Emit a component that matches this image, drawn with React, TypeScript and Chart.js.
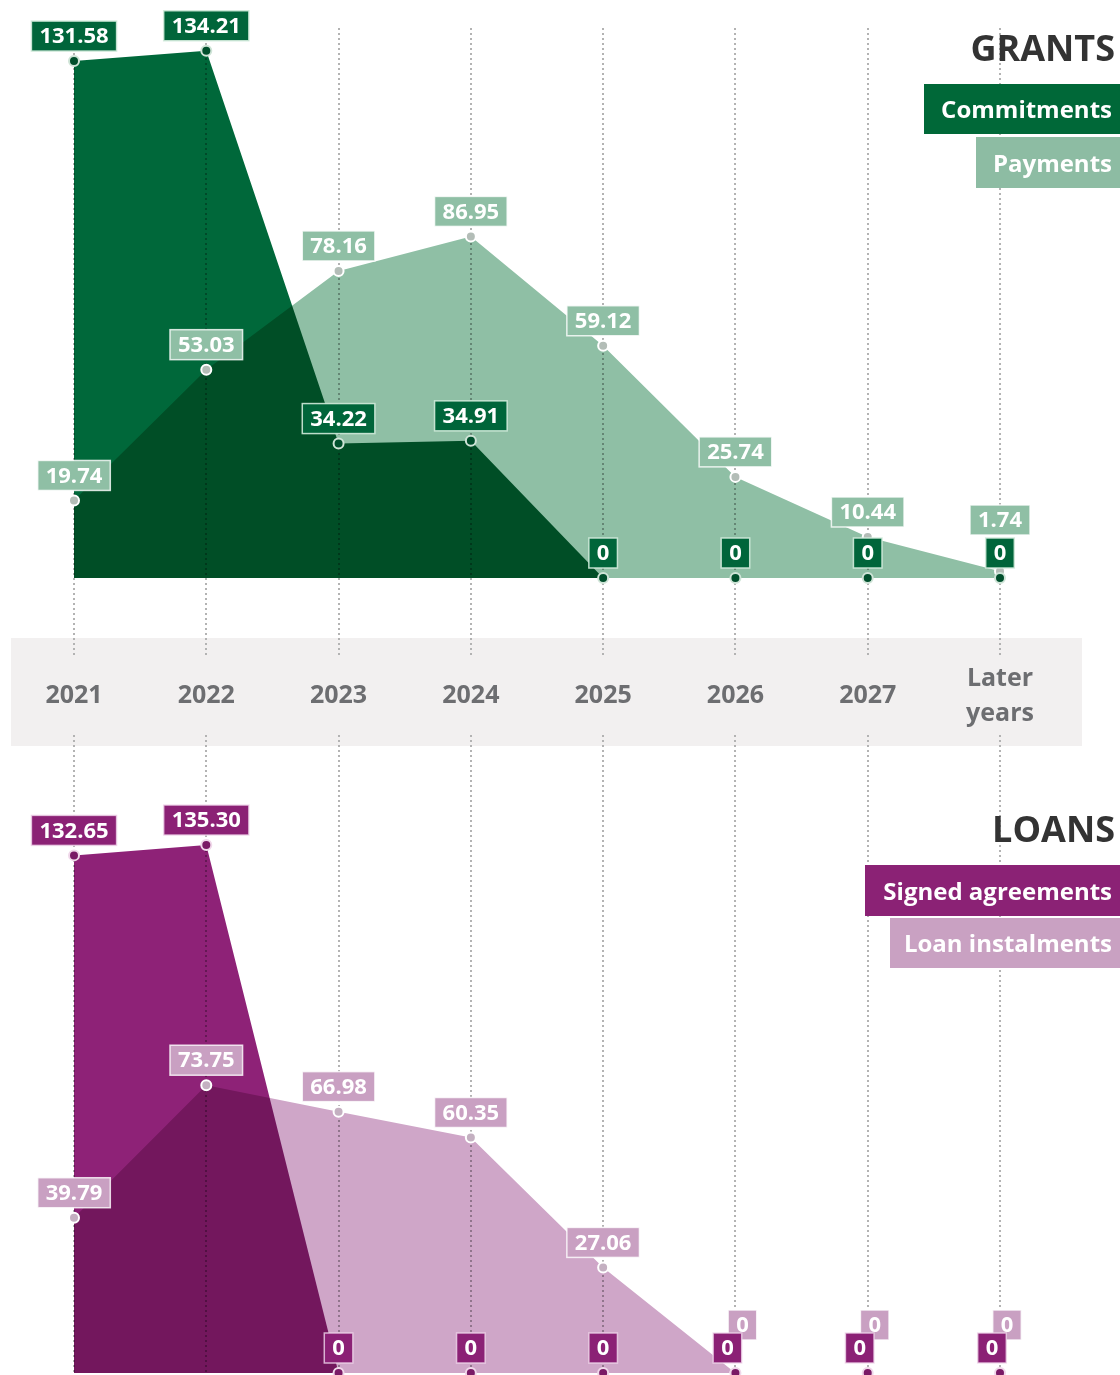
import React, { useEffect, useRef } from 'react';
import { Chart, registerables } from 'chart.js';

// ---------- data ----------
const yearLabels: (string | string[])[] = ['2021', '2022', '2023', '2024', '2025', '2026', '2027', ['Later', 'years']];
const grantCommitments = [131.58, 134.21, 34.22, 34.91, 0, 0, 0, 0];
const grantPayments = [19.74, 53.03, 78.16, 86.95, 59.12, 25.74, 10.44, 1.74];
const loanSigned = [132.65, 135.3, 0, 0, 0, 0, 0, 0];
const loanInstalments = [39.79, 73.75, 66.98, 60.35, 27.06, 0, 0, 0];

const grantSeriesNames = ['Commitments', 'Payments'];
const loanSeriesNames = ['Signed agreements', 'Loan instalments'];

// ---------- styles ----------
const GREEN_DARK = '#00683a';
const GREEN_LIGHT = '#8fbfa5';
const PURPLE_DARK = '#8e2277';
const PURPLE_LIGHT = '#cfa6c8';
const GRID = '#b3b3b3';
const FONT = "'Open Sans', sans-serif";

// blending plugin: registered before the built-ins so it runs before the filler
const blendPlugin = {
  id: 'blendFill',
  beforeDatasetsDraw(chart: any) {
    chart.ctx.globalCompositeOperation = 'multiply';
  },
  beforeDatasetDraw(chart: any) {
    chart.ctx.globalCompositeOperation = 'source-over';
  },
  afterDatasetsDraw(chart: any) {
    chart.ctx.globalCompositeOperation = 'source-over';
  },
};
Chart.register(blendPlugin as any);
Chart.register(...registerables);
Chart.defaults.font.family = FONT;

const fmt = (v: number) => (v === 0 ? '0' : v.toFixed(2));

const boxLabelPlugin = {
  id: 'boxLabels',
  afterDatasetsDraw(chart: any, _args: any, opts: any) {
    const ctx = chart.ctx as CanvasRenderingContext2D;
    ctx.save();
    ctx.globalCompositeOperation = 'source-over';
    ctx.font = `bold ${opts.fontSize}px ${FONT}`;
    const padX = 8;
    const boxH = 30;
    const gap = 10;
    const boxes = chart.data.datasets.map((ds: any, di: number) => {
      const meta = chart.getDatasetMeta(di);
      return ds.data.map((v: number, j: number) => {
        const pt = meta.data[j];
        const text = fmt(v);
        const w = ctx.measureText(text).width + padX * 2;
        return { text, v, cx: pt.x, bottom: pt.y - gap, w, h: boxH };
      });
    });
    const topB = boxes[0];
    const lowB = boxes[1];
    for (let j = 0; j < topB.length; j++) {
      const a = topB[j];
      const b = lowB[j];
      const overlap = Math.abs(a.cx - b.cx) < (a.w + b.w) / 2 && Math.abs(a.bottom - b.bottom) < boxH;
      if (overlap) {
        if (a.v === b.v) {
          a.cx -= 8;
          b.cx += 7;
          b.bottom -= 23;
        } else {
          b.bottom = a.bottom - boxH - 3;
        }
      }
    }
    const drawBox = (bx: any, fill: string, stroke: string) => {
      const x = bx.cx - bx.w / 2;
      const y = bx.bottom - bx.h;
      ctx.fillStyle = fill;
      ctx.fillRect(x, y, bx.w, bx.h);
      ctx.strokeStyle = stroke;
      ctx.lineWidth = 1.5;
      ctx.strokeRect(x, y, bx.w, bx.h);
      ctx.fillStyle = '#ffffff';
      ctx.textAlign = 'center';
      ctx.textBaseline = 'middle';
      ctx.fillText(bx.text, bx.cx, y + bx.h / 2 + 1);
    };
    lowB.forEach((bx: any) => drawBox(bx, opts.colors[1], opts.strokes[1]));
    topB.forEach((bx: any) => drawBox(bx, opts.colors[0], opts.strokes[0]));
    ctx.restore();
  },
};

function buildConfig(
  names: string[],
  dark: number[],
  light: number[],
  colors: { dark: string; light: string; darkPt: string; darkPtBorder: string; lightPt: string; labelDark: string; labelLight: string; strokeDark: string; strokeLight: string },
  yMax: number,
  showTicks: boolean,
  padding: any
): any {
  return {
    type: 'line',
    data: {
      labels: yearLabels,
      datasets: [
        {
          label: names[0],
          data: dark,
          fill: 'origin',
          backgroundColor: colors.dark,
          borderColor: colors.dark,
          borderWidth: 0,
          tension: 0,
          clip: false,
          pointRadius: 5,
          pointBorderWidth: 2,
          pointBackgroundColor: colors.darkPt,
          pointBorderColor: colors.darkPtBorder,
        },
        {
          label: names[1],
          data: light,
          fill: 'origin',
          backgroundColor: colors.light,
          borderColor: colors.light,
          borderWidth: 0,
          tension: 0,
          clip: false,
          pointRadius: 5,
          pointBorderWidth: 2,
          pointBackgroundColor: colors.lightPt,
          pointBorderColor: '#ffffff',
        },
      ],
    },
    options: {
      responsive: false,
      animation: false,
      events: [],
      layout: { padding },
      plugins: {
        legend: { display: false },
        tooltip: { enabled: false },
        filler: { drawTime: 'beforeDatasetsDraw' },
        boxLabels: {
          fontSize: 22,
          colors: [colors.labelDark, colors.labelLight],
          strokes: [colors.strokeDark, colors.strokeLight],
        },
      },
      scales: {
        x: {
          offset: false,
          border: { display: false, dash: [2, 3] },
          grid: {
            color: GRID,
            lineWidth: 2,
            drawTicks: showTicks,
            tickLength: 80,
            tickColor: GRID,
            tickWidth: 2,
            tickBorderDash: [2, 3],
          },
          ticks: {
            display: showTicks,
            color: '#6d6e71',
            // single-line labels get a doubled line height so they sit centred
            // against the two-line "Later years" label
            font: (c: any) => ({
              size: 25,
              weight: 'bold',
              lineHeight: Array.isArray(c.tick && c.tick.label) ? 1.4 : 2.8,
            }),
            padding: 3,
            maxRotation: 0,
            autoSkip: false,
          },
        },
        y: { display: false, min: 0, max: yMax },
      },
    },
    plugins: [boxLabelPlugin],
  };
}

const legendBox = (text: string, left: number, top: number, height: number, bg: string): React.ReactElement => (
  <div
    style={{
      position: 'absolute',
      left,
      top,
      width: 1120 - left,
      height,
      background: bg,
      color: '#ffffff',
      font: `bold 24px ${FONT}`,
      lineHeight: `${height}px`,
      textAlign: 'right',
      paddingRight: 8,
      boxSizing: 'border-box',
      whiteSpace: 'nowrap',
    }}
  >
    {text}
  </div>
);

const title = (text: string, top: number): React.ReactElement => (
  <div
    style={{
      position: 'absolute',
      right: 5,
      top,
      color: '#333333',
      font: `bold 36px ${FONT}`,
      lineHeight: '36px',
      whiteSpace: 'nowrap',
    }}
  >
    {text}
  </div>
);

export default function App() {
  const topRef = useRef<HTMLCanvasElement>(null);
  const botRef = useRef<HTMLCanvasElement>(null);

  useEffect(() => {
    const top = new Chart(
      topRef.current as HTMLCanvasElement,
      buildConfig(
        grantSeriesNames,
        grantCommitments,
        grantPayments,
        {
          dark: GREEN_DARK,
          light: GREEN_LIGHT,
          darkPt: '#004f2c',
          darkPtBorder: '#cfe4d7',
          lightPt: '#b3bdb7',
          labelDark: '#00653a',
          labelLight: '#8fbfa5',
          strokeDark: 'rgba(210,235,220,0.9)',
          strokeLight: 'rgba(255,255,255,0.8)',
        },
        140,
        true,
        { top: 28, left: 74, right: 120, bottom: 0 }
      )
    );
    const bot = new Chart(
      botRef.current as HTMLCanvasElement,
      buildConfig(
        loanSeriesNames,
        loanSigned,
        loanInstalments,
        {
          dark: PURPLE_DARK,
          light: PURPLE_LIGHT,
          darkPt: '#7a1a66',
          darkPtBorder: '#f0d8ea',
          lightPt: '#c4b0c1',
          labelDark: '#8b2175',
          labelLight: '#c9a0c2',
          strokeDark: 'rgba(240,215,235,0.8)',
          strokeLight: 'rgba(255,255,255,0.8)',
        },
        163.5,
        false,
        { top: 0, left: 74, right: 120, bottom: 3 }
      )
    );
    return () => {
      top.destroy();
      bot.destroy();
    };
  }, []);

  return (
    <div style={{ position: 'absolute', left: 0, top: 0, width: 1120, height: 1375, overflow: 'hidden', background: '#ffffff' }}>
      <div style={{ position: 'absolute', left: 11, top: 638, width: 1071, height: 108, background: '#f2f0f0' }} />
      <canvas ref={topRef} width={1120} height={734} style={{ position: 'absolute', left: 0, top: 0, width: 1120, height: 734 }} />
      <canvas ref={botRef} width={1120} height={652} style={{ position: 'absolute', left: 0, top: 728, width: 1120, height: 652 }} />
      {title('GRANTS', 30)}
      {legendBox(grantSeriesNames[0], 924, 84, 50, '#006838')}
      {legendBox(grantSeriesNames[1], 976, 137, 51, '#8dbca3')}
      {title('LOANS', 811)}
      {legendBox(loanSeriesNames[0], 865, 865, 51, '#8b2275')}
      {legendBox(loanSeriesNames[1], 890, 918, 50, '#c9a1c2')}
    </div>
  );
}
